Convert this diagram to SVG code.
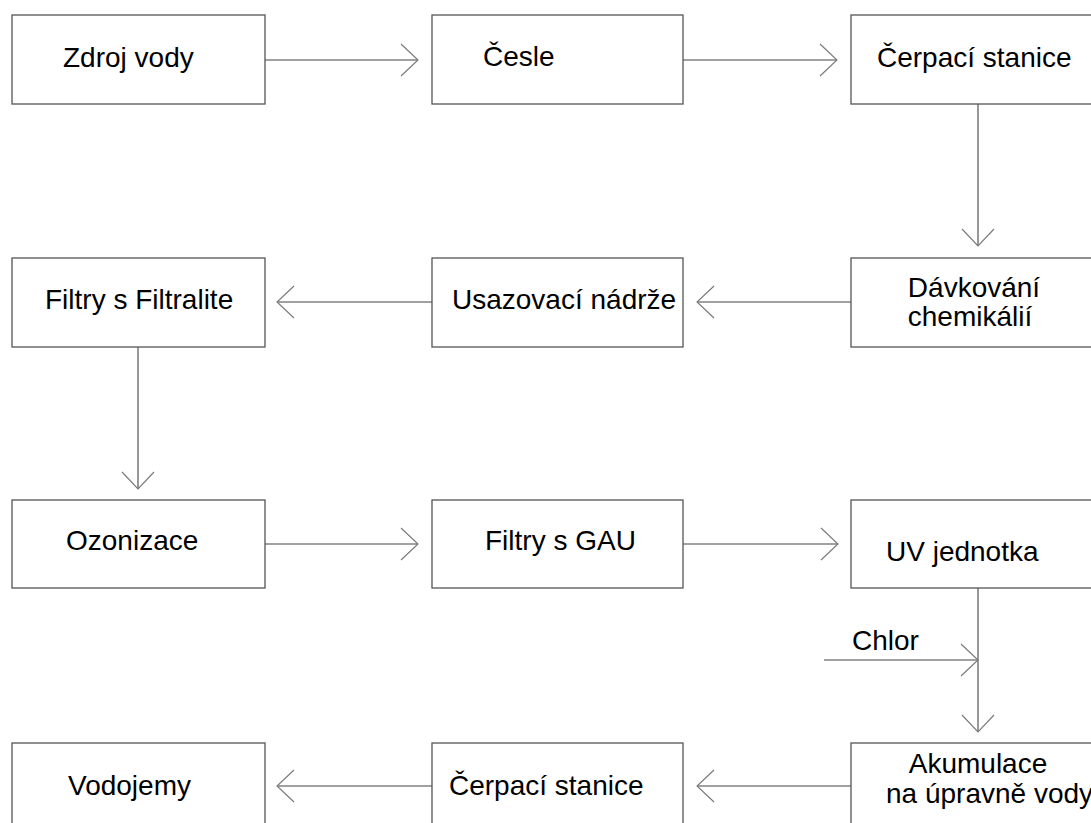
<svg xmlns="http://www.w3.org/2000/svg" width="1091" height="823" viewBox="0 0 1091 823">
<style>
.box{fill:#fff;stroke:#555;stroke-width:1.3}
.t{font-family:"Liberation Sans",Arial,sans-serif;font-size:28px;fill:#000}
.c{text-anchor:middle}
.ln{fill:none;stroke:#444;stroke-width:1.1}
</style>
<defs>
<marker id="ah" markerUnits="userSpaceOnUse" markerWidth="40" markerHeight="40" refX="0" refY="0" viewBox="-20 -20 40 40" orient="auto" overflow="visible">
<path d="M-17,-16 L0,0 L-17,16" fill="none" stroke="#777" stroke-width="1.1"/>
</marker>
</defs>
<rect width="1091" height="823" fill="#fff"/>
<g id="connectors">
<line class="ln" x1="265" y1="60" x2="418" y2="60" marker-end="url(#ah)"/>
<line class="ln" x1="683" y1="60" x2="837" y2="60" marker-end="url(#ah)"/>
<line class="ln" x1="978" y1="104" x2="978" y2="246" marker-end="url(#ah)"/>
<line class="ln" x1="851" y1="302" x2="697" y2="302" marker-end="url(#ah)"/>
<line class="ln" x1="432" y1="302" x2="277" y2="302" marker-end="url(#ah)"/>
<line class="ln" x1="138" y1="347" x2="138" y2="489" marker-end="url(#ah)"/>
<line class="ln" x1="265" y1="544" x2="418" y2="544" marker-end="url(#ah)"/>
<line class="ln" x1="683" y1="544" x2="838" y2="544" marker-end="url(#ah)"/>
<line class="ln" x1="978" y1="588" x2="978" y2="732" marker-end="url(#ah)"/>
<line class="ln" x1="824" y1="660" x2="978" y2="660" marker-end="url(#ah)"/>
<line class="ln" x1="851" y1="786" x2="697" y2="786" marker-end="url(#ah)"/>
<line class="ln" x1="432" y1="786" x2="277" y2="786" marker-end="url(#ah)"/>
</g>
<g id="zdroj"><rect class="box" x="12" y="15" width="253" height="89"/><text class="t" x="63" y="67">Zdroj vody</text></g>
<g id="cesle"><rect class="box" x="432" y="15" width="251" height="89"/><text class="t" x="483" y="66">Česle</text></g>
<g id="cerpaci1"><rect class="box" x="851" y="15" width="260" height="89"/><text class="t" x="877" y="67">Čerpací stanice</text></g>
<g id="davkovani"><rect class="box" x="851" y="258" width="260" height="89"/><text class="t c" x="974" y="297">Dávkování</text><text class="t c" x="970" y="326">chemikálií</text></g>
<g id="usazovaci"><rect class="box" x="432" y="258" width="251" height="89"/><text class="t" x="452" y="309">Usazovací nádrže</text></g>
<g id="filtralite"><rect class="box" x="12" y="258" width="253" height="89"/><text class="t" x="45" y="309">Filtry s Filtralite</text></g>
<g id="ozonizace"><rect class="box" x="12" y="500" width="253" height="88"/><text class="t" x="66" y="550">Ozonizace</text></g>
<g id="gau"><rect class="box" x="432" y="500" width="251" height="88"/><text class="t" x="485" y="550">Filtry s GAU</text></g>
<g id="uv"><rect class="box" x="851" y="500" width="260" height="88"/><text class="t" x="886" y="561">UV jednotka</text></g>
<g id="chlor"><text class="t" x="852" y="650">Chlor</text></g>
<g id="akumulace"><rect class="box" x="851" y="743" width="260" height="90"/><text class="t c" x="978" y="773">Akumulace</text><text class="t" x="886" y="803">na úpravně vody</text></g>
<g id="cerpaci2"><rect class="box" x="432" y="743" width="251" height="90"/><text class="t" x="449" y="795">Čerpací stanice</text></g>
<g id="vodojemy"><rect class="box" x="12" y="743" width="253" height="90"/><text class="t" x="68" y="795">Vodojemy</text></g>
</svg>
